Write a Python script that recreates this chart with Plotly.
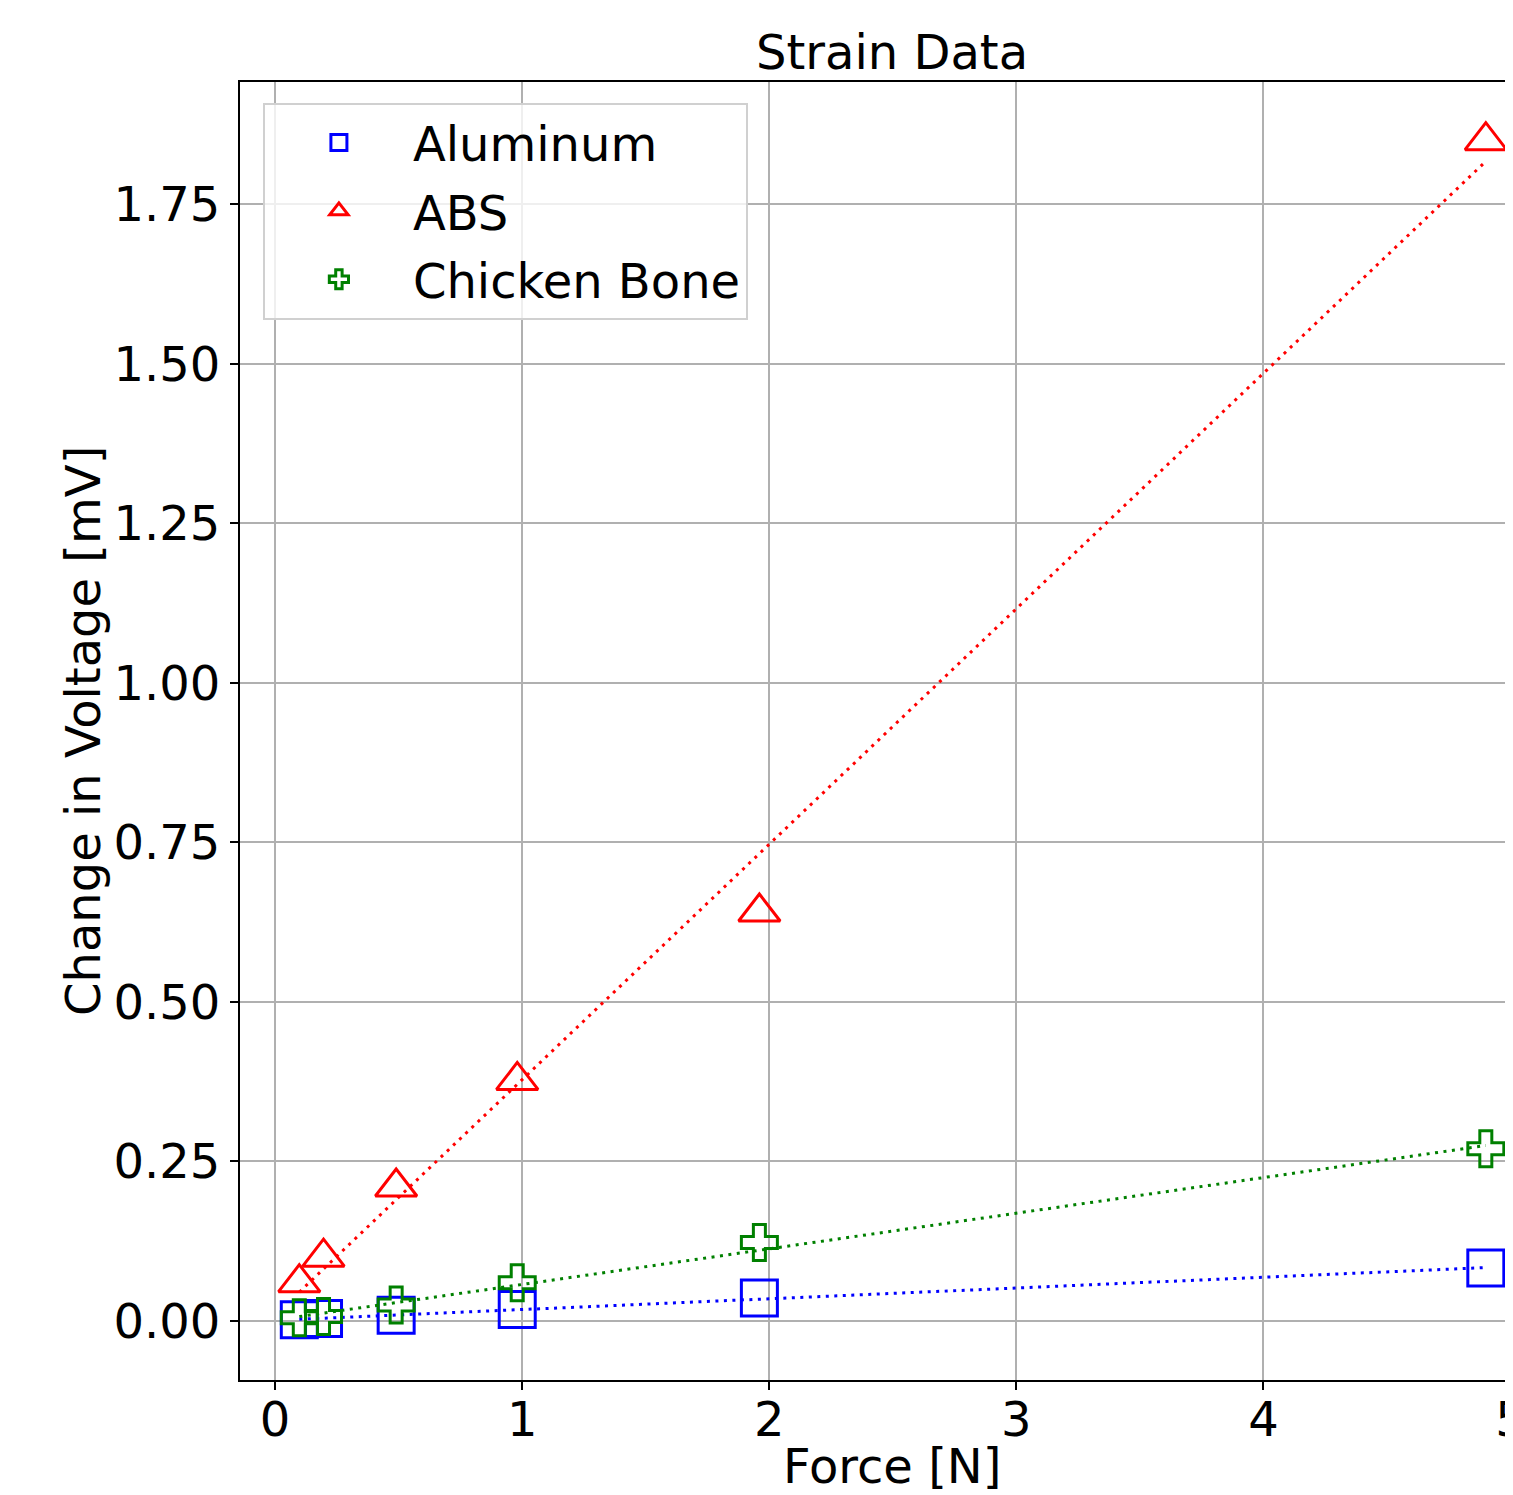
import numpy as np
import plotly.graph_objects as go

# ---- data ----
force_N = [0.098, 0.196, 0.49, 0.98, 1.96, 4.9]
aluminum_mV = [0.002, 0.004, 0.009, 0.018, 0.036, 0.083]
abs_mV = [0.060, 0.100, 0.210, 0.377, 0.641, 1.850]
chicken_mV = [0.005, 0.007, 0.025, 0.060, 0.123, 0.270]

series_names = ["Aluminum", "ABS", "Chicken Bone"]
series_values = [aluminum_mV, abs_mV, chicken_mV]
series_colors = ["#0000ff", "#ff0000", "#008000"]
series_symbols = ["square-open", "triangle-up-open", "cross-open"]
series_sizes = [36, 36, 30]

x_ticks = [0, 1, 2, 3, 4, 5]
y_ticks = [0.0, 0.25, 0.5, 0.75, 1.0, 1.25, 1.5, 1.75]
y_tick_labels = ["0.00", "0.25", "0.50", "0.75", "1.00", "1.25", "1.50", "1.75"]

FONT = "DejaVu Sans"
FS = 48

fig = go.Figure()

xs = np.array(force_N)
for name, vals, col, sym, sz in zip(series_names, series_values, series_colors,
                                     series_symbols, series_sizes):
    fig.add_trace(go.Scatter(
        x=force_N, y=vals, mode="markers", name=name, legendgroup=name,
        marker=dict(symbol=sym, size=sz, color=col, line=dict(width=3, color=col)),
    ))
    # linear least-squares fit line over the data range
    k, b = np.polyfit(xs, np.array(vals), 1)
    xf = [xs.min(), xs.max()]
    fig.add_trace(go.Scatter(
        x=xf, y=[k * v + b for v in xf], mode="lines", showlegend=False,
        legendgroup=name, hoverinfo="skip",
        line=dict(color=col, width=3, dash="3px,5.5px"),
    ))

fig.update_layout(
    width=1505, height=1487, autosize=False,
    margin=dict(l=232, r=0, t=74, b=115, autoexpand=False),
    paper_bgcolor="white", plot_bgcolor="white",
    font=dict(family=FONT, size=FS, color="black"),
    showlegend=True,
    legend=dict(
        x=0.018, y=0.984, xanchor="left", yanchor="top",
        bgcolor="rgba(255,255,255,0.8)", bordercolor="#d0d0d0", borderwidth=2,
        font=dict(family=FONT, size=FS), itemwidth=138, tracegroupgap=3,
    ),
)

fig.update_xaxes(
    range=[-0.142, 5.010], tickvals=x_ticks, ticktext=[str(t) for t in x_ticks],
    showgrid=True, gridcolor="#b0b0b0", gridwidth=2,
    showline=True, linecolor="black", linewidth=2, mirror=True,
    ticks="outside", ticklen=8, tickwidth=2, tickcolor="black",
    ticklabeloverflow="allow", ticklabelstandoff=-12, automargin=False,
    zeroline=False, tickfont=dict(family=FONT, size=FS),
)
fig.update_yaxes(
    range=[-0.0925, 1.942], tickvals=y_ticks, ticktext=y_tick_labels,
    showgrid=True, gridcolor="#b0b0b0", gridwidth=2,
    showline=True, linecolor="black", linewidth=2, mirror=False,
    ticks="outside", ticklen=8, tickwidth=2, tickcolor="black", automargin=False,
    zeroline=False, tickfont=dict(family=FONT, size=FS),
)

# title and axis labels (centred on the full matplotlib axes, which extend past the crop)
fig.add_annotation(text="Strain Data", xref="paper", yref="paper", x=0.512, y=1,
                   yanchor="bottom", yshift=0, showarrow=False,
                   font=dict(family=FONT, size=FS))
fig.add_annotation(text="Force [N]", xref="paper", yref="paper", x=0.512, y=0,
                   yanchor="top", yshift=-56, showarrow=False,
                   font=dict(family=FONT, size=FS))
fig.add_annotation(text="Change in Voltage [mV]", xref="paper", yref="paper",
                   x=0, y=0.5, xanchor="right", xshift=-127, textangle=-90,
                   showarrow=False, font=dict(family=FONT, size=FS))

fig.write_html("out.html", config={"responsive": False})
